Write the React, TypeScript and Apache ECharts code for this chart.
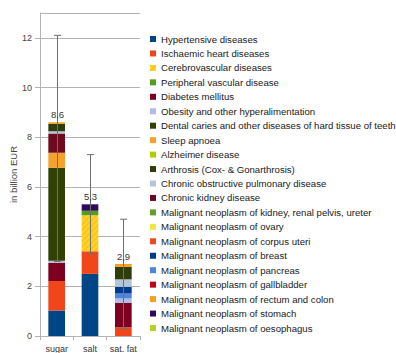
import React, { useEffect, useRef } from "react";
import * as echarts from "echarts";

const categories = ["sugar", "salt", "sat. fat"];

const diseases = [
  "Hypertensive diseases",
  "Ischaemic heart diseases",
  "Cerebrovascular diseases",
  "Peripheral vascular disease",
  "Diabetes mellitus",
  "Obesity and other hyperalimentation",
  "Dental caries and other diseases of hard tissue of teeth",
  "Sleep apnoea",
  "Alzheimer disease",
  "Arthrosis (Cox- & Gonarthrosis)",
  "Chronic obstructive pulmonary disease",
  "Chronic kidney disease",
  "Malignant neoplasm of kidney, renal pelvis, ureter",
  "Malignant neoplasm of ovary",
  "Malignant neoplasm of corpus uteri",
  "Malignant neoplasm of breast",
  "Malignant neoplasm of pancreas",
  "Malignant neoplasm of gallbladder",
  "Malignant neoplasm of rectum and colon",
  "Malignant neoplasm of stomach",
  "Malignant neoplasm of oesophagus",
];

// values per category, aligned with diseases (billion EUR)
const sugarValues = [1.03, 1.18, 0, 0, 0.74, 0.08, 3.74, 0.61, 0, 0.3, 0.09, 0.77, 0, 0, 0, 0, 0, 0, 0.06, 0, 0];
const saltValues = [2.5, 0.91, 1.45, 0.18, 0, 0, 0, 0, 0, 0, 0, 0, 0, 0, 0, 0, 0, 0, 0, 0.26, 0];
const satFatValues = [0, 0.35, 0, 0, 0.99, 0.17, 0, 0, 0, 0.5, 0.3, 0, 0, 0, 0, 0.27, 0.2, 0, 0.12, 0, 0];

const totals = [8.6, 5.3, 2.9];
const totalLabels = ["8,6", "5,3", "2,9"];
const errorLow = [3.0, 3.3, 0.3];
const errorHigh = [12.1, 7.3, 4.7];

const yTicks = { min: 0, max: 13, interval: 2 };

// drawing order of the stack (bottom to top)
const stackOrder = [0, 1, 2, 3, 4, 5, 16, 15, 6, 7, 11, 10, 9, 8, 18, 19, 12, 13, 14, 17, 20];

const colors = [
  "#004586",
  "#f0461a",
  "#ffd320",
  "#579d1c",
  "#7e0021",
  "#aebde6",
  "#314004",
  "#f5a22a",
  "#aecf00",
  "#2f3d0c",
  "#b6c4d8",
  "#6e0a1e",
  "#64a030",
  "#f2e640",
  "#ee4a22",
  "#003c8c",
  "#4f86d9",
  "#c0001a",
  "#f5a020",
  "#2e0b5e",
  "#b4d22a",
];

const FONT = "Liberation Sans, Arial, sans-serif";

export default function App() {
  const ref = useRef<HTMLDivElement>(null);

  useEffect(() => {
    if (!ref.current) return;
    const chart = echarts.init(ref.current, undefined, { renderer: "svg" });

    const barSeries = stackOrder.map((i) => {
      const s: any = {
        name: diseases[i],
        type: "bar",
        stack: "total",
        barWidth: "50%",
        data: [sugarValues[i], saltValues[i], satFatValues[i]],
        itemStyle: { color: colors[i] },
        emphasis: { disabled: true },
      };
      if (i === 2) {
        s.itemStyle.decal = {
          symbol: "rect",
          symbolSize: 1,
          color: "rgba(225,140,40,0.35)",
          dashArrayX: [1, 0],
          dashArrayY: [1, 3],
          rotation: -Math.PI / 4,
        };
      }
      return s;
    });

    const errData = categories.map((_, i) => [i, errorLow[i], errorHigh[i], totals[i]]);

    const option: any = {
      animation: false,
      textStyle: { fontFamily: FONT },
      grid: { left: 40, top: 13, width: 100, bottom: 16.3 },
      legend: {
        data: diseases,
        orient: "vertical",
        left: 150,
        top: 34,
        padding: 0,
        itemWidth: 6,
        itemHeight: 6,
        itemGap: 4.45,
        icon: "rect",
        selectedMode: false,
        textStyle: { fontFamily: FONT, fontSize: 9.6, color: "#1a1a1a", lineHeight: 10 },
      },
      xAxis: {
        type: "category",
        data: categories,
        axisLine: { lineStyle: { color: "#b3b3b3" } },
        axisTick: { show: true, length: 4, lineStyle: { color: "#b3b3b3" } },
        axisLabel: { fontFamily: FONT, fontSize: 9, color: "#333", margin: 8, interval: 0 },
      },
      yAxis: {
        type: "value",
        min: yTicks.min,
        max: yTicks.max,
        interval: yTicks.interval,
        name: "in billion EUR",
        nameLocation: "middle",
        nameGap: 21,
        nameTextStyle: { fontFamily: FONT, fontSize: 9.5, color: "#444" },
        axisLine: { show: true, lineStyle: { color: "#b3b3b3" } },
        axisTick: { show: true, length: 5, lineStyle: { color: "#b3b3b3" } },
        axisLabel: { fontFamily: FONT, fontSize: 9, color: "#444", margin: 8, showMaxLabel: false },
        splitLine: { lineStyle: { color: "#b3b3b3" } },
      },
      series: [
        ...barSeries,
        {
          type: "custom",
          name: "error",
          data: errData,
          z: 10,
          renderItem: (params: any, api: any) => {
            const idx = api.value(0);
            const lo = api.coord([idx, api.value(1)]);
            const hi = api.coord([idx, api.value(2)]);
            const top = api.coord([idx, api.value(3)]);
            const x = Math.round(lo[0]) + 0.5;
            const cap = 3.5;
            const stroke = { stroke: "#6f6f6f", lineWidth: 1 };
            return {
              type: "group",
              children: [
                { type: "line", shape: { x1: x, y1: lo[1], x2: x, y2: hi[1] }, style: stroke },
                { type: "line", shape: { x1: x - cap, y1: hi[1], x2: x + cap, y2: hi[1] }, style: stroke },
                { type: "line", shape: { x1: x - cap, y1: lo[1], x2: x + cap, y2: lo[1] }, style: stroke },
                {
                  type: "text",
                  x: x,
                  y: top[1] - 2.5,
                  style: {
                    text: totalLabels[params.dataIndex],
                    fontFamily: FONT,
                    fontSize: 9.5,
                    fill: "#333",
                    align: "center",
                    verticalAlign: "bottom",
                  },
                },
              ],
            };
          },
        },
      ],
    };

    chart.setOption(option);
    return () => chart.dispose();
  }, []);

  return (
    <div
      ref={ref}
      style={{ position: "fixed", left: 0, top: 0, width: 396, height: 353, background: "#fff" }}
    />
  );
}
